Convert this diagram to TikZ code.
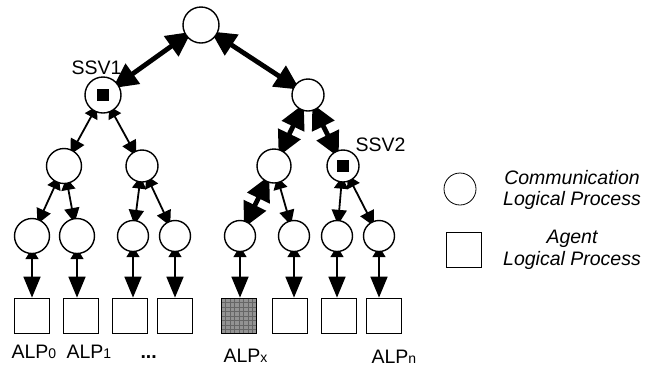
\documentclass[tikz,border=0pt]{standalone}
\usepackage{fontspec}
\setmainfont{Liberation Sans}
\usetikzlibrary{arrows.meta,backgrounds}

\newcommand\lpidx[1]{{\fontsize{14}{14}\selectfont #1}}

\begin{document}
\begin{tikzpicture}[x=1pt, y=-1pt,
  font=\fontsize{19.5}{21.5}\selectfont,
  clp/.style={circle, draw, line width=1.4pt, fill=white, inner sep=0pt, minimum size=32pt},
  ssv/.style={clp, path picture={\fill[black] (path picture bounding box.center) +(-6,-6) rectangle +(6,6);}},
  alp/.style={rectangle, draw, line width=1.8pt, fill=white, inner sep=0pt, minimum size=35pt},
  alpx/.style={alp, fill=gray!85, path picture={\draw[black!60, line width=0.4pt] (path picture bounding box.south west) grid[step=4.5pt] (path picture bounding box.north east);}},
  link/.style={line width=1.8pt, shorten <=-6pt, shorten >=-5pt, {Triangle[length=12pt,width=14pt]}-{Triangle[length=15pt,width=15pt]}},
  bold link/.style={line width=4.8pt, shorten <=-7pt, shorten >=-7pt, {Triangle[length=25pt,width=24pt]}-{Triangle[length=25pt,width=24pt]}},
  down link/.style={line width=1.8pt, shorten <=-6pt, {Triangle[length=11pt,width=13pt]}-{Triangle[length=21pt,width=17pt]}},
  note/.style={align=center, font=\fontsize{19.5}{21.5}\selectfont\itshape}]
\useasboundingbox (0,0) rectangle (645,368);

% tree of communication LPs
\node[clp, minimum size=36pt] (root) at (201,25) {};
\node[ssv, minimum size=36pt] (ssv1) at (103,95) {};
\node[clp] (cr) at (308,95) {};
\node[clp, minimum size=35pt] (c1) at (64,166) {};
\node[clp] (c2) at (142,166) {};
\node[clp, minimum size=34pt] (c3) at (274,166) {};
\node[ssv] (ssv2) at (343,166) {};

% leaves and agent LPs
\foreach \i/\cx/\bx/\s/\st in {0/32/32/35/alp, 1/77/81/35/alp, 2/133/130/31/alp, 3/175/175/31/alp,
    4/240/239/31/alpx, 5/294/290/31/alp, 6/337/339/31/alp, 7/379/384/31/alp} {
  \node[clp, minimum size=\s pt] (l\i) at (\cx,236) {};
  \node[\st] (a\i) at (\bx,316) {};
}

\begin{scope}[on background layer]
\draw[bold link] (root) -- (ssv1);
\draw[bold link] (root) -- (cr);
\draw[link] (ssv1) -- (c1);
\draw[link] (ssv1) -- (c2);
\draw[bold link] (cr) -- (c3);
\draw[bold link] (cr) -- (ssv2);
\draw[link] (c1) -- (l0);
\draw[link] (c1) -- (l1);
\draw[link] (c2) -- (l2);
\draw[link] (c2) -- (l3);
\draw[bold link] (c3) -- (l4);
\draw[link] (c3) -- (l5);
\draw[link] (ssv2) -- (l6);
\draw[link] (ssv2) -- (l7);
\foreach \i in {0,...,7}
  \draw[down link] (l\i) -- (l\i |- a\i.north);
\end{scope}

% labels
\node[anchor=base west] (t ssv1) at (68,74) {SSV1};
\node[anchor=base west] (t ssv2) at (352,151) {SSV2};
\node[anchor=base west] (t0) at (8,358) {ALP\lpidx{0}};
\node[anchor=base west] (t1) at (63,358) {ALP\lpidx{1}};
\node[anchor=base west] (tdots) at (137,358) {\textbf{...}};
\node[anchor=base west] (tx) at (220,362) {ALP\lpidx{x}};
\node[anchor=base west] (tn) at (368,363) {ALP\lpidx{n}};

% legend
\node[clp, line width=0.8pt] (key clp) at (460,189) {};
\node[alp] (key alp) at (464,250) {};
\node[note] (key clp text) at (572,190) {Communication\\Logical Process};
\node[note] (key alp text) at (572,250) {Agent\\Logical Process};
\end{tikzpicture}
\end{document}
